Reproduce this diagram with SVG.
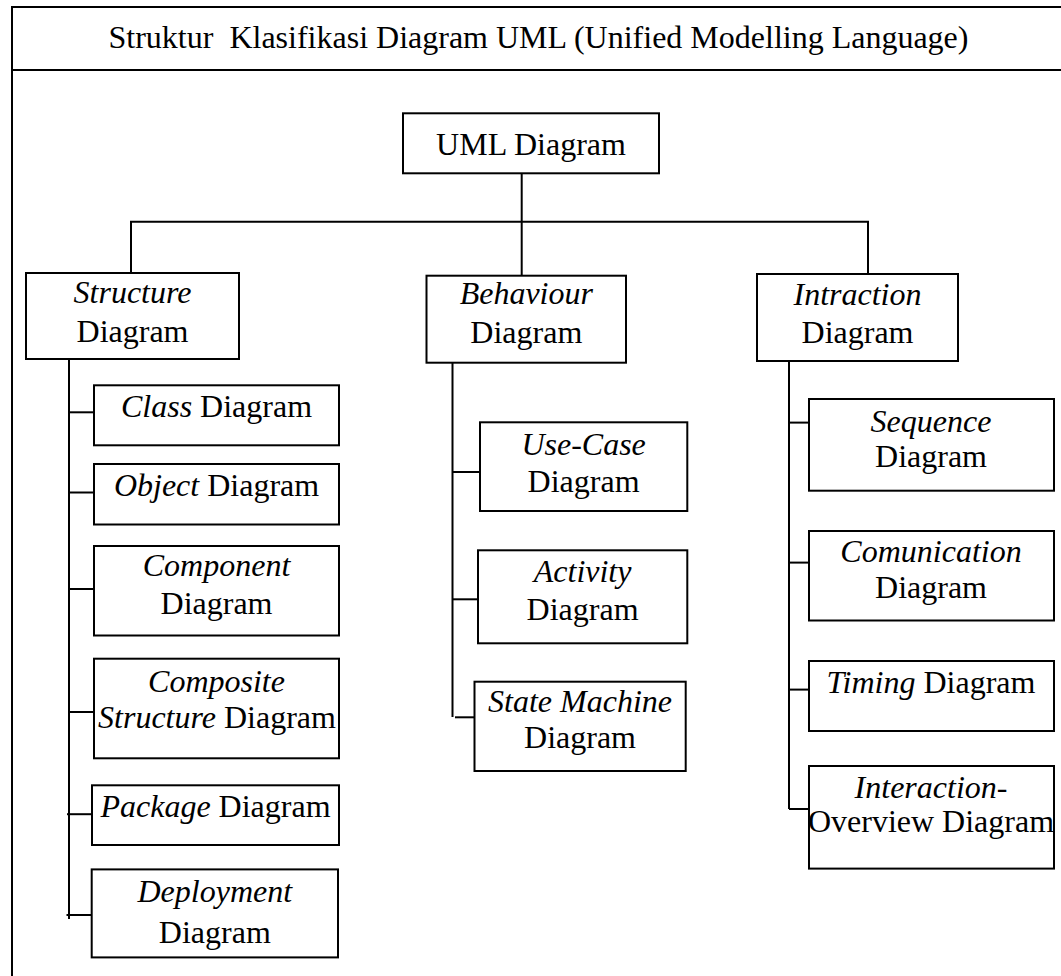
<svg xmlns="http://www.w3.org/2000/svg" width="1061" height="976" viewBox="0 0 1061 976">
  <style>
    .frame { fill: none; stroke: #000; stroke-width: 2; }
    .box { fill: #fff; stroke: #000; stroke-width: 2; }
    .wire { fill: none; stroke: #000; stroke-width: 2; }
    text { font-family: "Liberation Serif", "Times New Roman", serif; font-size: 32px; fill: #000; text-anchor: middle; }
    .it { font-style: italic; }
  </style>

  <!-- outer frame with title band -->
  <g id="frame">
    <rect class="frame" x="12" y="7" width="1070" height="990"/>
    <line class="frame" x1="12" y1="70" x2="1062" y2="70"/>
    <text x="538.5" y="48" style="white-space:pre">Struktur  Klasifikasi Diagram UML (Unified Modelling Language)</text>
  </g>

  <!-- connectors -->
  <g id="connectors">
    <!-- root to the three categories -->
    <line class="wire" x1="521.7" y1="173" x2="521.7" y2="276"/>
    <polyline class="wire" points="131,273 131,221.7 868,221.7 868,274"/>
    <!-- structure branch -->
    <line class="wire" x1="69" y1="359" x2="69" y2="919"/>
    <line class="wire" x1="69" y1="412.3" x2="94" y2="412.3"/>
    <line class="wire" x1="69" y1="492.5" x2="94" y2="492.5"/>
    <line class="wire" x1="69" y1="589" x2="94" y2="589"/>
    <line class="wire" x1="69" y1="712" x2="94" y2="712"/>
    <line class="wire" x1="67" y1="814.2" x2="92" y2="814.2"/>
    <line class="wire" x1="66.5" y1="915" x2="92" y2="915"/>
    <!-- behaviour branch -->
    <line class="wire" x1="452.5" y1="362.7" x2="452.5" y2="717"/>
    <line class="wire" x1="452.5" y1="472" x2="480" y2="472"/>
    <line class="wire" x1="452.5" y1="599.3" x2="478" y2="599.3"/>
    <line class="wire" x1="455" y1="717.3" x2="474.5" y2="717.3"/>
    <!-- interaction branch -->
    <line class="wire" x1="789" y1="361" x2="789" y2="809"/>
    <line class="wire" x1="789" y1="422.6" x2="809" y2="422.6"/>
    <line class="wire" x1="789" y1="562.6" x2="809" y2="562.6"/>
    <line class="wire" x1="789" y1="689.6" x2="809" y2="689.6"/>
    <line class="wire" x1="789" y1="809" x2="809" y2="809"/>
  </g>

  <g id="uml-diagram">
    <rect class="box" x="403" y="113.3" width="256" height="60"/>
    <text x="531" y="155">UML Diagram</text>
  </g>

  <g id="structure-diagram">
    <rect class="box" x="26" y="273" width="213" height="86"/>
    <text x="132.5" y="303.3" class="it">Structure</text>
    <text x="132.5" y="341.7">Diagram</text>
  </g>

  <g id="behaviour-diagram">
    <rect class="box" x="426.5" y="275.7" width="199.5" height="87"/>
    <text x="526.3" y="303.5" class="it">Behaviour</text>
    <text x="526.3" y="342.5">Diagram</text>
  </g>

  <g id="intraction-diagram">
    <rect class="box" x="757" y="274" width="201" height="87"/>
    <text x="857.5" y="305" class="it">Intraction</text>
    <text x="857.5" y="342.7">Diagram</text>
  </g>

  <!-- structure children -->
  <g id="class-diagram">
    <rect class="box" x="94" y="385.3" width="245" height="60"/>
    <text x="216.5" y="417"><tspan class="it">Class</tspan> Diagram</text>
  </g>
  <g id="object-diagram">
    <rect class="box" x="94" y="464" width="245" height="60.5"/>
    <text x="216.5" y="496"><tspan class="it">Object</tspan> Diagram</text>
  </g>
  <g id="component-diagram">
    <rect class="box" x="94" y="546" width="245" height="89.5"/>
    <text x="216.5" y="575.8" class="it">Component</text>
    <text x="216.5" y="613.8">Diagram</text>
  </g>
  <g id="composite-structure-diagram">
    <rect class="box" x="94" y="658.7" width="245" height="99.6"/>
    <text x="216.5" y="691.8" class="it">Composite</text>
    <text x="217" y="727.9"><tspan class="it">Structure</tspan> Diagram</text>
  </g>
  <g id="package-diagram">
    <rect class="box" x="92" y="785.3" width="247" height="59.7"/>
    <text x="215.5" y="817"><tspan class="it">Package</tspan> Diagram</text>
  </g>
  <g id="deployment-diagram">
    <rect class="box" x="91.7" y="869.4" width="246.3" height="88"/>
    <text x="214.8" y="901.5" class="it">Deployment</text>
    <text x="214.8" y="942.7">Diagram</text>
  </g>

  <!-- behaviour children -->
  <g id="use-case-diagram">
    <rect class="box" x="480" y="422.3" width="207.3" height="88.7"/>
    <text x="583.6" y="455" class="it">Use-Case</text>
    <text x="583.6" y="491.7">Diagram</text>
  </g>
  <g id="activity-diagram">
    <rect class="box" x="478" y="550.3" width="209.3" height="93"/>
    <text x="582.6" y="582.3" class="it">Activity</text>
    <text x="582.6" y="620">Diagram</text>
  </g>
  <g id="state-machine-diagram">
    <rect class="box" x="474.5" y="681.7" width="211.2" height="89.3"/>
    <text x="580" y="711.7" class="it">State Machine</text>
    <text x="580" y="748.3">Diagram</text>
  </g>

  <!-- interaction children -->
  <g id="sequence-diagram">
    <rect class="box" x="809" y="399" width="245" height="91.7"/>
    <text x="931" y="431.8" class="it">Sequence</text>
    <text x="931" y="466.8">Diagram</text>
  </g>
  <g id="comunication-diagram">
    <rect class="box" x="809" y="531" width="245" height="89.5"/>
    <text x="931" y="561.6" class="it">Comunication</text>
    <text x="931" y="598.4">Diagram</text>
  </g>
  <g id="timing-diagram">
    <rect class="box" x="809" y="661" width="245" height="70"/>
    <text x="931" y="693"><tspan class="it">Timing</tspan> Diagram</text>
  </g>
  <g id="interaction-overview-diagram">
    <rect class="box" x="809" y="766" width="245" height="102.6"/>
    <text x="931" y="798.4"><tspan class="it">Interaction</tspan>-</text>
    <text x="931" y="831.7">Overview Diagram</text>
  </g>
</svg>
